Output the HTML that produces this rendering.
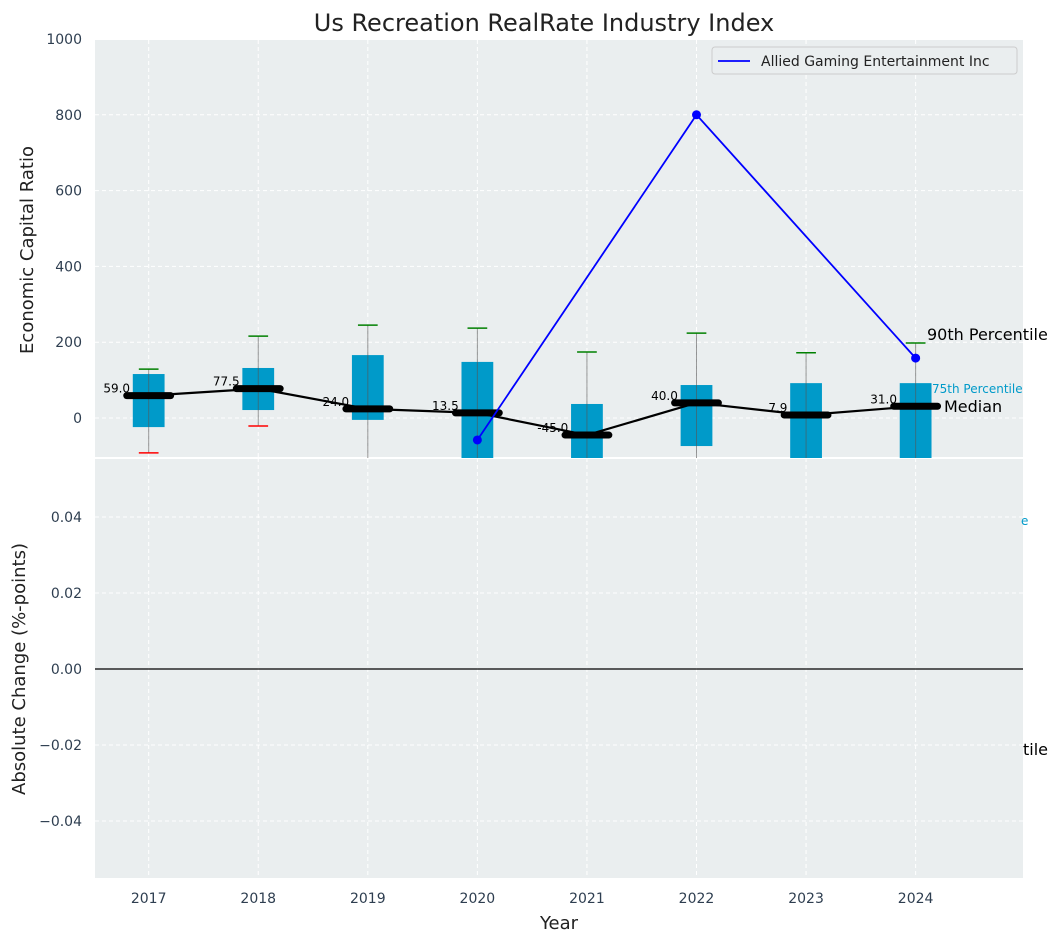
<!DOCTYPE html>
<html><head><meta charset="utf-8"><style>
body{margin:0;background:#fff;font-family:"Liberation Sans","DejaVu Sans",sans-serif}
</style></head><body>
<svg id="c" width="1062" height="942" xmlns="http://www.w3.org/2000/svg" font-family="DejaVu Sans, Liberation Sans, sans-serif"></svg>
<script>
const years=[2017,2018,2019,2020,2021,2022,2023,2024];
const medians=[59.0,77.5,24.0,13.5,-45.0,40.0,7.9,31.0];
const q1=[-24,21,-5,-200,-200,-74,-200,-200];
const q3=[116,132,166,148,37,87,92,92];
const p10=[-92,-21,-300,-300,-300,-300,-300,-300];
const p90=[129,216,245,237,174,224,172,198];
const lowCapRed=[true,true,false,false,false,false,false,false];
const companyYears=[2020,2022,2024];
const companyVals=[-58,800,158];
const topTicks=[0,200,400,600,800,1000];
const botTicks=[-0.04,-0.02,0,0.02,0.04];

const NS="http://www.w3.org/2000/svg";
const svg=document.getElementById('c');
function el(t,a,parent){const e=document.createElementNS(NS,t);for(const k in a)e.setAttribute(k,a[k]);(parent||svg).appendChild(e);return e;}
const L=95,R=1023,T1=40,B1=458,T2=458,B2=878;
const x=v=>L+(v-2016.51)/(2024.98-2016.51)*(R-L);
const y1=v=>418-v*0.379;
const y2=v=>669-v*3800;

let bg=el('rect',{x:L,y:T1,width:R-L,height:B1-T1,fill:'#eaeeef'});

let bg2=el('rect',{x:L,y:T2,width:R-L,height:B2-T2,fill:'#eaeeef'});

el('line',{x1:L,x2:R,y1:458,y2:458,stroke:'#fff','stroke-width':2});

const clip=el('clipPath',{id:'cp1'});el('rect',{x:L,y:T1,width:R-L,height:B1-T1},clip);
const g=el('g',{'clip-path':'url(#cp1)'});
// grid
years.forEach(yr=>{
 el('line',{x1:x(yr),x2:x(yr),y1:T1,y2:B1,stroke:'#fff','stroke-dasharray':'4,3','stroke-width':1},g);
 el('line',{x1:x(yr),x2:x(yr),y1:T2,y2:B2,stroke:'#fff','stroke-dasharray':'4,3','stroke-width':1});
 const t=el('text',{x:x(yr),y:903,'text-anchor':'middle','font-size':14,fill:'#2e3e50'});t.textContent=yr;
 
});
topTicks.forEach(v=>{
 el('line',{x1:L,x2:R,y1:y1(v),y2:y1(v),stroke:'#fff','stroke-dasharray':'4,3'},g);
 const t=el('text',{x:82,y:y1(v)+5,'text-anchor':'end','font-size':14,fill:'#2e3e50'});t.textContent=v;
 
});
botTicks.forEach(v=>{
 if(v!==0)el('line',{x1:L,x2:R,y1:y2(v),y2:y2(v),stroke:'#fff','stroke-dasharray':'4,3'});
 const t=el('text',{x:82,y:y2(v)+5,'text-anchor':'end','font-size':14,fill:'#2e3e50'});t.textContent=(v<0?'\u2212':'')+Math.abs(v).toFixed(2);
 
});
el('line',{x1:L,x2:R,y1:y2(0),y2:y2(0),stroke:'#000','stroke-width':1.2});

const hw=0.145;
years.forEach((yr,i)=>{
 const b=el('rect',{x:x(yr-hw),y:y1(q3[i]),width:x(yr+hw)-x(yr-hw),height:y1(q1[i])-y1(q3[i]),fill:'#009ac9'},g);
 
 el('line',{x1:x(yr),x2:x(yr),y1:y1(p90[i]),y2:y1(p10[i]),stroke:'#555','stroke-opacity':0.6,'stroke-width':1},g);
 el('line',{x1:x(yr-0.09),x2:x(yr+0.09),y1:y1(p90[i]),y2:y1(p90[i]),stroke:'green','stroke-width':1.5},g);
 if(lowCapRed[i])el('line',{x1:x(yr-0.09),x2:x(yr+0.09),y1:y1(p10[i]),y2:y1(p10[i]),stroke:'red','stroke-width':1.5},g);
});
// median line
let pts=years.map((yr,i)=>x(yr)+','+y1(medians[i])).join(' ');
let ml=el('polyline',{points:pts,fill:'none',stroke:'#000','stroke-width':2.2},g);

years.forEach((yr,i)=>{
 el('line',{x1:x(yr-0.2),x2:x(yr+0.2),y1:y1(medians[i]),y2:y1(medians[i]),stroke:'#000','stroke-width':7,'stroke-linecap':'round'},g);
 const t=el('text',{x:x(yr-0.17),y:y1(medians[i])-3,'text-anchor':'end','font-size':12,fill:'#000'});t.textContent=medians[i].toFixed(1);
 
});
// company line
let cp=companyYears.map((yr,i)=>x(yr)+','+y1(companyVals[i])).join(' ');
let cl=el('polyline',{points:cp,fill:'none',stroke:'blue','stroke-width':1.8},g);

companyYears.forEach((yr,i)=>{const c=el('circle',{cx:x(yr),cy:y1(companyVals[i]),r:4.5,fill:'blue'},g);
 });

// annotations
function txt(s,a,name){const t=el('text',a);t.textContent=s;return t;}
txt('90th Percentile',{x:927,y:340,'font-size':16,fill:'#000'},'annotation-90th');
txt('75th Percentile',{x:932,y:393,'font-size':12,fill:'#009ac9'},'annotation-75th');
txt('Median',{x:944,y:412,'font-size':16,fill:'#000'},'annotation-median');
txt('e',{x:1021,y:525,'font-size':12,fill:'#009ac9'},'annotation-clipped-e');
txt('tile',{x:1023,y:755,'font-size':16,fill:'#000'},'annotation-clipped-tile');

// legend
const lg=el('g',{});
el('rect',{x:712,y:47,width:305,height:27,rx:3,fill:'#eaeeef',stroke:'#ccc'},lg);
el('line',{x1:718,x2:750,y1:61,y2:61,stroke:'blue','stroke-width':1.8},lg);
const lt=el('text',{x:761,y:66,'font-size':14,fill:'#222'},lg);lt.textContent='Allied Gaming Entertainment Inc';

txt('Us Recreation RealRate Industry Index',{x:544,y:31,'text-anchor':'middle','font-size':24,fill:'#222'},'chart-title');
txt('Year',{x:559,y:929,'text-anchor':'middle','font-size':18,fill:'#222'},'x-axis-title');
txt('Economic Capital Ratio',{x:33,y:250,'text-anchor':'middle','font-size':18,fill:'#222',transform:'rotate(-90 33 250)'},'y-axis-title-top');
txt('Absolute Change (%-points)',{x:25,y:669,'text-anchor':'middle','font-size':18,fill:'#222',transform:'rotate(-90 25 669)'},'y-axis-title-bottom');
</script>
</body></html>
